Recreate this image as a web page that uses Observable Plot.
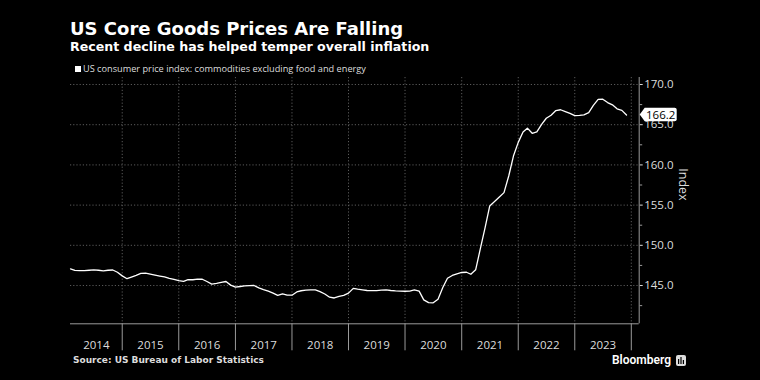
<!DOCTYPE html>
<html>
<head>
<meta charset="utf-8">
<script src="https://cdn.jsdelivr.net/npm/d3@7"></script>
<script src="https://cdn.jsdelivr.net/npm/@observablehq/plot@0.6"></script>
<style>
html,body{margin:0;padding:0;background:#000;}
#wrap{width:760px;height:380px;background:#000;overflow:hidden;position:relative;}
#head{position:relative;height:76px;}
#title{position:absolute;left:70px;top:20px;font:bold 18px/18px "DejaVu Sans";color:#fff;white-space:nowrap;}
#subtitle{position:absolute;left:70px;top:41px;font:bold 12.6px/12.6px "DejaVu Sans";color:#fff;white-space:nowrap;}
#legend{position:absolute;left:75px;top:63px;font:9.2px/12px "Open Sans";color:#ddd;white-space:nowrap;display:flex;align-items:center;}
#legend .sw{width:6px;height:6px;background:#fff;margin-right:2px;}
#chart{height:276px;}
#foot{position:relative;height:28px;}
#source{position:absolute;left:73px;top:2px;font:bold 9px/12px "DejaVu Sans";color:#ddd;white-space:nowrap;}
#brand{position:absolute;left:612px;top:0px;font:600 12px/16px Roboto;color:#fff;display:flex;align-items:center;}
#brand svg{margin-left:5px;}
</style>
</head>
<body>
<div id="wrap">
  <div id="head">
    <div id="title">US Core Goods Prices Are Falling</div>
    <div id="subtitle">Recent decline has helped temper overall inflation</div>
    <div id="legend"><div class="sw"></div><span>US consumer price index: commodities excluding food and energy</span></div>
  </div>
  <div id="chart"></div>
  <div id="foot">
    <div id="source">Source: US Bureau of Labor Statistics</div>
    <div id="brand">Bloomberg<svg width="10" height="11" viewBox="0 0 10 11"><rect x="0" y="0" width="10" height="11" rx="2" fill="#ddd"/><rect x="2" y="4" width="1.2" height="5" fill="#000"/><rect x="4.4" y="2" width="1.2" height="7" fill="#000"/><rect x="6.8" y="5" width="1.2" height="4" fill="#000"/></svg></div>
  </div>
</div>
<script>
// Monthly index values (CPI: commodities less food and energy)
const v2014 = [147.07, 146.88, 146.86, 146.86, 146.90, 146.94, 146.90, 146.83, 146.90, 146.93, 146.65]; // Feb–Dec
const v2015 = [146.20, 145.85, 146.05, 146.27, 146.50, 146.53, 146.42, 146.30, 146.18, 146.07, 145.90, 145.75];
const v2016 = [145.60, 145.52, 145.72, 145.72, 145.80, 145.78, 145.50, 145.18, 145.27, 145.38, 145.50, 145.05];
const v2017 = [144.80, 144.88, 144.96, 144.98, 145.00, 144.71, 144.50, 144.30, 144.05, 143.78, 143.97, 143.80];
const v2018 = [143.80, 144.20, 144.35, 144.42, 144.45, 144.47, 144.25, 143.95, 143.55, 143.45, 143.65, 143.78];
const v2019 = [144.05, 144.65, 144.55, 144.47, 144.38, 144.36, 144.37, 144.42, 144.46, 144.38, 144.33, 144.30];
const v2020 = [144.29, 144.30, 144.45, 144.30, 143.22, 142.87, 142.85, 143.30, 144.75, 145.90, 146.25, 146.45];
const v2021 = [146.62, 146.65, 146.40, 146.95, 149.55, 152.20, 154.90, 155.45, 156.00, 156.55, 158.65, 161.10];
const v2022 = [162.80, 164.10, 164.57, 163.93, 164.10, 165.05, 165.80, 166.18, 166.76, 166.86, 166.63, 166.40];
const v2023 = [166.12, 166.15, 166.22, 166.50, 167.40, 168.15, 168.17, 167.75, 167.47, 166.97, 166.78, 166.20];

const years = [2014, 2015, 2016, 2017, 2018, 2019, 2020, 2021, 2022, 2023];
const yearValues = [v2014, v2015, v2016, v2017, v2018, v2019, v2020, v2021, v2022, v2023];
const firstMonth = [1, 0, 0, 0, 0, 0, 0, 0, 0, 0]; // 2014 series starts in February
const yTicks = [145, 150, 155, 160, 165, 170];
const yMinorTicks = [142.5, 147.5, 152.5, 157.5, 162.5, 167.5];
const yLabel = "Index";
const lastLabel = "166.2";

const data = years.flatMap((yr, i) =>
  yearValues[i].map((v, j) => ({date: new Date(Date.UTC(yr, firstMonth[i] + j, 1)), value: v}))
);

const xDomain = [new Date(Date.UTC(2014, 1, 1)), new Date(Date.UTC(2024, 1, 21))];
const yDomain = [140.24, 170.87];
const yearStarts = d3.range(2015, 2025).map(y => new Date(Date.UTC(y, 0, 1)));
const yearLabels = years.map(y => {
  const a = Math.max(+new Date(Date.UTC(y, 0, 1)), +xDomain[0]);
  const b = Math.min(+new Date(Date.UTC(y + 1, 0, 1)), +xDomain[1]);
  return {date: new Date((a + b) / 2), label: String(y)};
});

const font = "Open Sans";
const gridColor = "#5a5a5a";
const axisColor = "#9a9a9a";

function lastValueMark(index, scales, values, dims) {
  const last = data[data.length - 1];
  const y = scales.y(last.value);
  const x0 = dims.width - dims.marginRight + 1;
  const g = d3.create("svg:g");
  const h = 13.5, w = 30, p = 5;
  g.append("path")
    .attr("d", `M${x0},${y} L${x0 + p},${y - h / 2} H${x0 + p + w} Q${x0 + p + w + 2},${y - h / 2} ${x0 + p + w + 2},${y - h / 2 + 2} V${y + h / 2 - 2} Q${x0 + p + w + 2},${y + h / 2} ${x0 + p + w},${y + h / 2} H${x0 + p} Z`)
    .attr("fill", "#fff");
  g.append("text")
    .attr("x", x0 + p + w / 2 + 1)
    .attr("y", y)
    .attr("dy", "0.35em")
    .attr("text-anchor", "middle")
    .attr("font-family", font)
    .attr("font-size", 11.5)
    .attr("fill", "#000")
    .text(lastLabel);
  return g.node();
}

const chart = Plot.plot({
  width: 760,
  height: 276,
  marginTop: 1,
  marginBottom: 28.7,
  marginLeft: 70,
  marginRight: 121.3,
  style: {background: "#000", color: "#ddd", fontFamily: font, fontSize: "11.5px", overflow: "visible"},
  x: {type: "utc", domain: xDomain},
  y: {domain: yDomain},
  marks: [
    Plot.gridY(yTicks, {stroke: gridColor, strokeOpacity: 1, strokeDasharray: "1.2,2"}),
    Plot.gridX(yearStarts, {stroke: gridColor, strokeOpacity: 1, strokeDasharray: "1.2,2"}),
    Plot.axisX(yearStarts, {tickSize: 27, tickFormat: () => "", stroke: axisColor, strokeOpacity: 1}),
    Plot.axisX(yearLabels.map(d => d.date), {tickSize: 0, tickPadding: 16.7, tickFormat: (d, i) => yearLabels[i].label, fill: "#ddd", fontSize: 11.5}),
    Plot.axisY(yMinorTicks, {anchor: "right", tickSize: 2.5, tickFormat: () => "", stroke: axisColor, label: null}),
    Plot.axisY(yTicks, {anchor: "right", tickSize: 3, tickPadding: 2, tickFormat: d3.format(".1f"), stroke: "#ddd", fill: "#ddd", label: null, fontSize: 11.5}),
    Plot.text([yLabel], {frameAnchor: "right", text: d => d, rotate: 90, dx: 43.5, fill: "#ddd", fontSize: 12.5, fontFamily: font}),
    Plot.ruleY([yDomain[0]], {stroke: axisColor, strokeWidth: 1}),
    Plot.ruleX([xDomain[1]], {stroke: axisColor, strokeWidth: 1}),
    Plot.line(data, {x: "date", y: "value", stroke: "#fff", strokeWidth: 1.3}),
    lastValueMark
  ]
});
document.getElementById("chart").appendChild(chart);
</script>
</body>
</html>
